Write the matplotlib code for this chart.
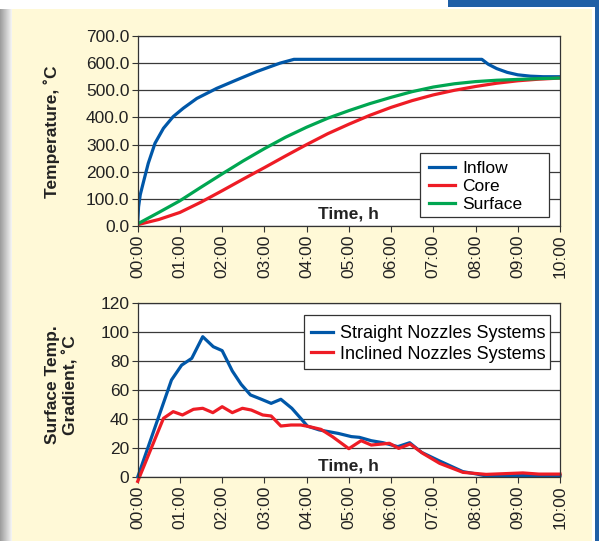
import matplotlib
matplotlib.use("Agg")
import matplotlib.pyplot as plt
from matplotlib.patches import Rectangle

plt.rcParams["font.family"] = ["Liberation Sans", "DejaVu Sans"]

# upper chart: temperatures, deg C, time in hours
inflow_t = [0, 0.02, 0.06, 0.133, 0.25, 0.41, 0.61, 0.84, 1.08, 1.4, 1.87,
            2.34, 2.82, 3.37, 3.7, 8.15, 8.3, 8.5, 8.75, 9.0, 9.3, 9.6, 10]
inflow = [10, 70, 115, 160, 231, 305, 360, 403, 434, 470, 507,
          538, 569, 600, 614, 614, 596, 580, 566, 557, 552, 550, 550]
half_hours = [0, 0.5, 1, 1.5, 2, 2.5, 3, 3.5, 4, 4.5, 5, 5.5, 6, 6.5, 7,
              7.5, 8, 8.5, 9, 9.5, 10]
core = [5, 24, 50, 88, 130, 173, 215, 258, 300, 340, 375, 408, 437, 462,
        483, 500, 514, 526, 535, 541, 545]
surface = [8, 50, 93, 143, 192, 240, 285, 327, 364, 397, 425, 451, 474,
           495, 512, 524, 532, 537, 540, 543, 545]

# lower chart: surface temperature gradient
straight_t = [0, 0.8, 1.04, 1.28, 1.54, 1.79, 2.0, 2.24, 2.45, 2.67, 2.93,
              3.16, 3.39, 3.65, 3.86, 4.02, 4.3, 4.75, 5.06, 5.25, 5.53,
              5.81, 6.16, 6.44, 6.72, 7.15, 7.7, 8.02, 8.25, 8.9, 9.5, 10]
straight = [0, 66.8, 77, 81.7, 96.6, 89.7, 87, 73, 63.8, 56.5, 53.5, 50.7,
            53.5, 47.3, 40.4, 35, 32.4, 30, 27.8, 27.3, 25, 23.6, 20.9, 23.6,
            17, 11, 3.7, 2.1, 0.7, 1.0, 1.0, 1.0]
inclined_t = [0, 0.61, 0.84, 1.06, 1.32, 1.54, 1.78, 2.0, 2.24, 2.48, 2.69,
              2.96, 3.16, 3.39, 3.63, 3.86, 4.06, 4.34, 4.61, 5.0, 5.29,
              5.53, 5.96, 6.18, 6.45, 6.75, 7.15, 7.7, 8.25, 9.12, 9.5, 10]
inclined = [-3, 40.4, 45, 42.7, 46.6, 47.3, 44.3, 48.4, 44.3, 47.3, 46.1,
            42.7, 42, 35.1, 35.8, 35.8, 34.7, 32.8, 27.8, 19.5, 25, 22, 23.2,
            19.7, 22.7, 16.3, 9.4, 3.2, 1.8, 2.8, 2.0, 2.0]

hour_ticks = list(range(11))
hour_labels = [f"{h:02d}:00" for h in hour_ticks]

W, H = 599, 541
CREAM = "#FFF9D7"
FRAME_BLUE = "#1F5FA6"
BLUE = "#0057A8"
RED = "#EE1C25"
GREEN = "#00A651"


def box(x0, y0, x1, y1):
    """pixel box (top-left origin) -> figure fraction rect"""
    return (x0 / W, 1 - y1 / H, (x1 - x0) / W, (y1 - y0) / H)


def backdrop(x0, y0, x1, y1, color):
    x, y, w, h = box(x0, y0, x1, y1)
    fig.patches.append(Rectangle((x, y), w, h, transform=fig.transFigure,
                                 color=color, lw=0, zorder=-5))


def legend_in_box(ax, frame, anchor, **kw):
    x, y, w, h = box(*frame)
    ax.add_patch(Rectangle((x, y), w, h, transform=fig.transFigure,
                           facecolor="white", edgecolor="#333", lw=0.9,
                           zorder=4, clip_on=False))
    ax.legend(loc="upper left", bbox_to_anchor=(anchor[0] / W, 1 - anchor[1] / H),
              bbox_transform=fig.transFigure, frameon=False, borderpad=0,
              borderaxespad=0, **kw)


fig = plt.figure(figsize=(W / 100, H / 100), dpi=100, facecolor="white")

# page decoration
for i in range(12):
    g = 0.62 + 0.03 * i
    backdrop(i, 9, i + 1, H, (g, g, g))
backdrop(12, 9, 592, H, CREAM)
backdrop(448, 0, W, 7, FRAME_BLUE)
backdrop(595, 0, W, H, FRAME_BLUE)

ax1 = fig.add_axes(box(137.7, 36, 560, 226))
ax2 = fig.add_axes(box(137.7, 302.7, 560, 477))

for ax in (ax1, ax2):
    ax.set_facecolor("white")
    ax.set_xlim(0, 10)
    ax.set_xticks(hour_ticks)
    ax.set_xticklabels(hour_labels, rotation=90, fontsize=12.5, color="#222")
    ax.tick_params(axis="both", direction="out", length=4, width=0.8,
                   color="#333", labelsize=12.5, labelcolor="#222", pad=2)
    ax.grid(axis="y", color="#3a3a3a", lw=0.9)
    ax.set_axisbelow(True)
    for s in ax.spines.values():
        s.set_color("#333")
        s.set_linewidth(0.9)

# upper chart
ax1.plot(inflow_t, inflow, color=BLUE, lw=2.3, label="Inflow")
ax1.plot(half_hours, core, color=RED, lw=2.3, label="Core")
ax1.plot(half_hours, surface, color=GREEN, lw=2.3, label="Surface")
ax1.set_ylim(0, 700)
ax1.set_yticks(range(0, 701, 100))
ax1.set_yticklabels([f"{v:.1f}" for v in range(0, 701, 100)])
ax1.text(5, 44, "Time, h", ha="center", va="center", fontsize=12.5,
         fontweight="bold", color="#222")
legend_in_box(ax1, (420, 153, 549, 217), (429, 161),
              fontsize=12.5, handlelength=1.5, handletextpad=0.4,
              labelspacing=0.17)

# lower chart
ax2.plot(straight_t, straight, color=BLUE, lw=2.3,
         label="Straight Nozzles Systems", clip_on=False)
ax2.plot(inclined_t, inclined, color=RED, lw=2.3,
         label="Inclined Nozzles Systems", clip_on=False)
ax2.set_ylim(0, 120)
ax2.set_yticks(range(0, 121, 20))
ax2.text(5, 7.6, "Time, h", ha="center", va="center", fontsize=12.5,
         fontweight="bold", color="#222")
legend_in_box(ax2, (304, 315, 550, 369), (311, 325),
              fontsize=13, handlelength=1.2, handletextpad=0.4,
              labelspacing=0.2)

fig.text(52 / W, 1 - 131.7 / H, "Temperature, ˚C", rotation=90,
         ha="center", va="center", fontsize=12.5, fontweight="bold",
         color="#222")
fig.text(62 / W, 1 - 385 / H, "Surface Temp.\nGradient, ˚C", rotation=90,
         ha="center", va="center", fontsize=12.5, fontweight="bold",
         color="#222", linespacing=1.2)

fig.savefig("out.png", dpi=100, facecolor=fig.get_facecolor())
